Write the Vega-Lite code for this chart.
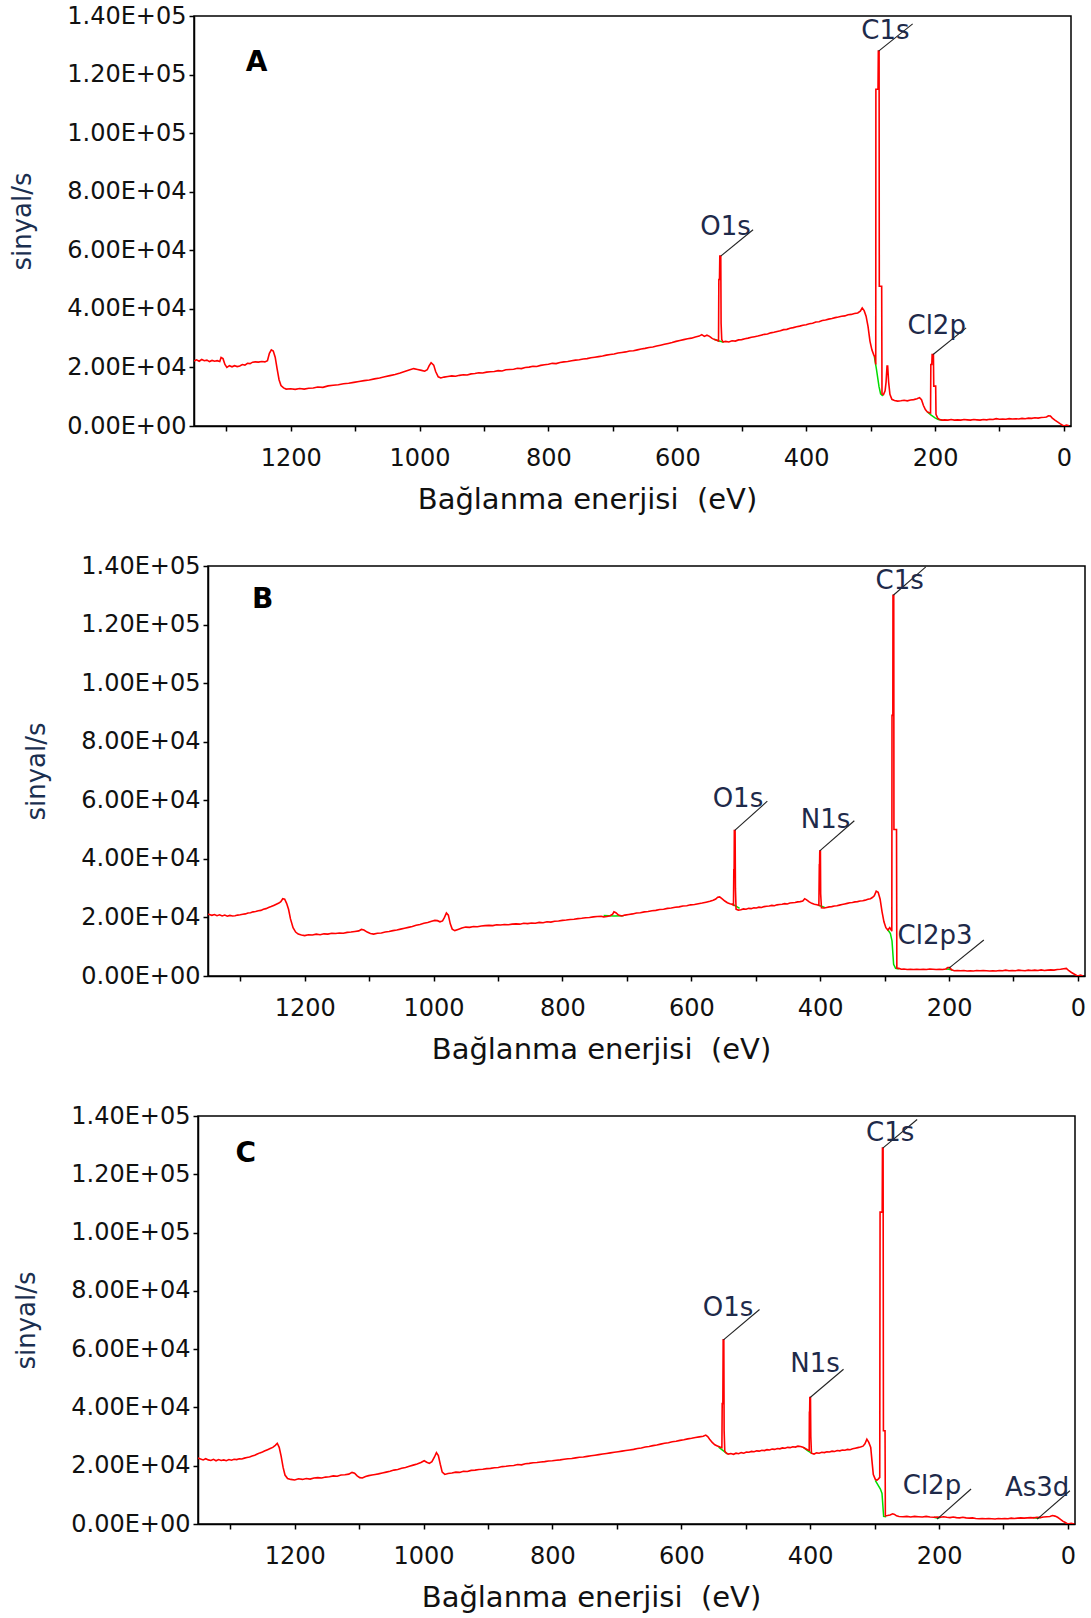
{
"$schema": "https://vega.github.io/schema/vega-lite/v6.json",
"padding": {"left": 5, "top": 3, "right": 5, "bottom": 2},
"background": "white",
"config": {
 "view": {"stroke": "#000000", "strokeWidth": 1.5},
 "axis": {"grid": false, "domainColor": "#000000", "domainWidth": 1.5, "tickColor": "#000000", "tickWidth": 1.5, "tickSize": 5,
   "labelFont": "DejaVu Sans", "labelFontSize": 24, "labelColor": "#111111",
   "titleFont": "DejaVu Sans", "titleFontSize": 29, "titleFontWeight": "normal", "titleColor": "#111111"},
 "axisY": {"titleFontSize": 26, "titleColor": "#1a2f50"}
},
"datasets": {
 "specA": [
{"e":1350,"v":22200},{"e":1346,"v":22600},{"e":1342,"v":22100},{"e":1338,"v":22700},{"e":1334,"v":22300},{"e":1330,"v":22500},{"e":1326,"v":22000},{"e":1322,"v":22400},{"e":1318,"v":22100},{"e":1314,"v":22300},{"e":1310,"v":22000},{"e":1308,"v":23400},{"e":1305,"v":23000},{"e":1302,"v":21000},{"e":1299,"v":20000},{"e":1295,"v":20600},{"e":1291,"v":20200},{"e":1287,"v":20600},{"e":1283,"v":20300},{"e":1279,"v":20500},{"e":1275,"v":21000},{"e":1271,"v":20800},{"e":1267,"v":21400},{"e":1263,"v":21300},{"e":1259,"v":21800},{"e":1255,"v":21900},{"e":1250,"v":21800},{"e":1245,"v":22000},{"e":1240,"v":21900},{"e":1236,"v":22300},{"e":1233,"v":24800},{"e":1230,"v":26000},{"e":1227,"v":25600},{"e":1224,"v":23500},{"e":1221,"v":19500},{"e":1218,"v":15800},{"e":1215,"v":13800},{"e":1211,"v":13000},{"e":1207,"v":12600},{"e":1200,"v":12700},{"e":1193,"v":12500},{"e":1186,"v":12800},{"e":1179,"v":12600},{"e":1172,"v":12900},{"e":1165,"v":13000},{"e":1158,"v":13300},{"e":1150,"v":13200},{"e":1142,"v":13700},{"e":1134,"v":13900},{"e":1126,"v":14100},{"e":1118,"v":14400},{"e":1110,"v":14600},{"e":1102,"v":14900},{"e":1094,"v":15200},{"e":1086,"v":15500},{"e":1078,"v":15700},{"e":1070,"v":16100},{"e":1062,"v":16400},{"e":1054,"v":16800},{"e":1046,"v":17200},{"e":1038,"v":17600},{"e":1030,"v":18100},{"e":1022,"v":18700},{"e":1015,"v":19200},{"e":1009,"v":19600},{"e":1003,"v":19300},{"e":997,"v":19000},{"e":992,"v":18700},{"e":988,"v":19200},{"e":985,"v":20600},{"e":982,"v":21600},{"e":978,"v":20800},{"e":975,"v":18600},{"e":971,"v":16800},{"e":967,"v":16400},{"e":962,"v":16700},{"e":956,"v":16900},{"e":950,"v":17100},{"e":944,"v":17000},{"e":938,"v":17300},{"e":932,"v":17500},{"e":926,"v":17400},{"e":920,"v":17800},{"e":914,"v":17900},{"e":908,"v":18200},{"e":902,"v":18100},{"e":896,"v":18400},{"e":890,"v":18500},{"e":884,"v":18600},{"e":878,"v":18900},{"e":872,"v":18800},{"e":866,"v":19200},{"e":860,"v":19300},{"e":854,"v":19400},{"e":848,"v":19700},{"e":842,"v":19600},{"e":836,"v":20000},{"e":830,"v":20100},{"e":824,"v":20400},{"e":818,"v":20300},{"e":812,"v":20700},{"e":806,"v":20900},{"e":800,"v":21100},{"e":794,"v":21400},{"e":788,"v":21300},{"e":782,"v":21700},{"e":776,"v":21900},{"e":770,"v":22000},{"e":764,"v":22300},{"e":758,"v":22500},{"e":752,"v":22600},{"e":746,"v":22900},{"e":740,"v":23000},{"e":734,"v":23300},{"e":728,"v":23500},{"e":722,"v":23700},{"e":716,"v":23900},{"e":710,"v":24200},{"e":704,"v":24400},{"e":698,"v":24600},{"e":692,"v":24900},{"e":686,"v":25100},{"e":680,"v":25300},{"e":674,"v":25600},{"e":668,"v":25700},{"e":662,"v":26000},{"e":656,"v":26300},{"e":650,"v":26500},{"e":644,"v":26800},{"e":638,"v":27000},{"e":632,"v":27300},{"e":626,"v":27600},{"e":620,"v":27900},{"e":614,"v":28200},{"e":608,"v":28500},{"e":602,"v":28900},{"e":596,"v":29200},{"e":590,"v":29500},{"e":584,"v":29800},{"e":578,"v":30000},{"e":572,"v":30400},{"e":566,"v":30700},{"e":562,"v":31200},{"e":558,"v":30600},{"e":554,"v":31000},{"e":550,"v":30600},{"e":546,"v":29900},{"e":542,"v":29500},{"e":538,"v":29200},{"e":536,"v":29000},{"e":535.5,"v":50000},{"e":534.5,"v":50000},{"e":534,"v":58000},{"e":532.5,"v":58000},{"e":532,"v":35000},{"e":531,"v":29500},{"e":529,"v":28700},{"e":525,"v":28900},{"e":520,"v":28700},{"e":515,"v":29100},{"e":510,"v":29000},{"e":505,"v":29400},{"e":500,"v":29500},{"e":495,"v":29800},{"e":490,"v":30000},{"e":485,"v":30300},{"e":480,"v":30500},{"e":475,"v":30700},{"e":470,"v":31000},{"e":465,"v":31300},{"e":460,"v":31400},{"e":455,"v":31800},{"e":450,"v":32000},{"e":445,"v":32300},{"e":440,"v":32500},{"e":435,"v":32900},{"e":430,"v":33000},{"e":425,"v":33400},{"e":420,"v":33600},{"e":415,"v":33900},{"e":410,"v":34100},{"e":405,"v":34400},{"e":400,"v":34600},{"e":395,"v":34900},{"e":390,"v":35100},{"e":385,"v":35500},{"e":380,"v":35600},{"e":375,"v":36000},{"e":370,"v":36200},{"e":365,"v":36500},{"e":360,"v":36700},{"e":355,"v":37000},{"e":350,"v":37200},{"e":345,"v":37500},{"e":340,"v":37600},{"e":335,"v":38000},{"e":330,"v":38100},{"e":325,"v":38400},{"e":320,"v":38600},{"e":316,"v":39200},{"e":313,"v":40300},{"e":310,"v":39400},{"e":307,"v":37500},{"e":304,"v":34000},{"e":301,"v":29000},{"e":298,"v":26000},{"e":295,"v":24200},{"e":293,"v":23500},{"e":292,"v":21000},{"e":291.8,"v":115000},{"e":288.5,"v":115000},{"e":288,"v":128000},{"e":286.8,"v":128000},{"e":286.5,"v":47700},{"e":282.8,"v":47700},{"e":282.3,"v":11000},{"e":280,"v":10700},{"e":277.5,"v":12000},{"e":276,"v":15000},{"e":274.5,"v":20500},{"e":273.5,"v":20500},{"e":272,"v":15000},{"e":270,"v":10800},{"e":267,"v":9100},{"e":263,"v":8700},{"e":258,"v":8500},{"e":253,"v":8600},{"e":248,"v":8800},{"e":243,"v":8600},{"e":238,"v":8900},{"e":233,"v":9000},{"e":228,"v":9300},{"e":224,"v":9700},{"e":221,"v":9000},{"e":218,"v":7000},{"e":215,"v":5600},{"e":212,"v":4800},{"e":209,"v":4500},{"e":207,"v":4400},{"e":206.5,"v":21000},{"e":205,"v":21000},{"e":204.5,"v":24400},{"e":202.5,"v":24400},{"e":202,"v":13600},{"e":199,"v":13600},{"e":198.5,"v":4000},{"e":196,"v":2700},{"e":193,"v":2200},{"e":189,"v":2000},{"e":185,"v":2100},{"e":180,"v":2000},{"e":175,"v":2200},{"e":170,"v":2000},{"e":165,"v":2100},{"e":160,"v":2000},{"e":155,"v":2200},{"e":150,"v":2100},{"e":145,"v":2000},{"e":140,"v":2200},{"e":135,"v":2100},{"e":130,"v":2000},{"e":125,"v":2200},{"e":120,"v":2100},{"e":115,"v":2300},{"e":110,"v":2200},{"e":105,"v":2500},{"e":100,"v":2300},{"e":95,"v":2400},{"e":90,"v":2300},{"e":85,"v":2500},{"e":80,"v":2400},{"e":75,"v":2500},{"e":70,"v":2400},{"e":65,"v":2600},{"e":60,"v":2500},{"e":55,"v":2700},{"e":50,"v":2600},{"e":45,"v":2800},{"e":40,"v":2700},{"e":35,"v":2900},{"e":30,"v":3000},{"e":27,"v":3100},{"e":24,"v":3500},{"e":21,"v":3400},{"e":18,"v":2700},{"e":14,"v":2000},{"e":10,"v":1400},{"e":6,"v":800},{"e":3,"v":400},{"e":0,"v":0},{"e":-4,"v":300},{"e":-8,"v":100}
 ],
 "bgA": [
{"s":1,"e":543,"v":29600},{"s":1,"e":536,"v":29100},{"s":1,"e":528,"v":28600},
{"s":2,"e":294.3,"v":23900},{"s":2,"e":291,"v":19500},{"s":2,"e":287,"v":13500},{"s":2,"e":284.5,"v":11000},{"s":2,"e":281,"v":10300},
{"s":3,"e":212,"v":4800},{"s":3,"e":206,"v":3700},{"s":3,"e":200,"v":2800},{"s":3,"e":195,"v":2200},{"s":3,"e":188,"v":2000}
 ],
 "annA": [
{"lab":"C1s","tx":277,"ty":134800,"x1":287.6,"y1":128000,"x2":234.7,"y2":137300},
{"lab":"O1s","tx":525,"ty":68000,"x1":532.6,"y1":58000,"x2":482.4,"y2":67000},
{"lab":"Cl2p","tx":197.4,"ty":34300,"x1":203,"y1":24400,"x2":151.7,"y2":33500}
 ],
 "specB": [
{"e":1352,"v":21200},{"e":1348,"v":21000},{"e":1344,"v":20700},{"e":1340,"v":21000},{"e":1336,"v":20600},{"e":1332,"v":20900},{"e":1328,"v":20500},{"e":1324,"v":20800},{"e":1320,"v":20400},{"e":1316,"v":20700},{"e":1312,"v":20500},{"e":1308,"v":20600},{"e":1304,"v":20800},{"e":1300,"v":20900},{"e":1296,"v":21100},{"e":1292,"v":21200},{"e":1288,"v":21500},{"e":1284,"v":21600},{"e":1280,"v":21900},{"e":1276,"v":22000},{"e":1272,"v":22300},{"e":1268,"v":22400},{"e":1264,"v":22800},{"e":1260,"v":23000},{"e":1256,"v":23400},{"e":1252,"v":23700},{"e":1248,"v":24100},{"e":1244,"v":24500},{"e":1240,"v":24900},{"e":1237,"v":25400},{"e":1234,"v":26400},{"e":1231,"v":26200},{"e":1228,"v":24800},{"e":1225,"v":22800},{"e":1222,"v":19500},{"e":1218,"v":16500},{"e":1214,"v":15000},{"e":1210,"v":14300},{"e":1205,"v":14000},{"e":1200,"v":13800},{"e":1194,"v":14100},{"e":1188,"v":14000},{"e":1182,"v":14300},{"e":1176,"v":14100},{"e":1170,"v":14400},{"e":1164,"v":14300},{"e":1158,"v":14600},{"e":1152,"v":14500},{"e":1146,"v":14700},{"e":1140,"v":14600},{"e":1134,"v":14900},{"e":1128,"v":15000},{"e":1122,"v":15200},{"e":1116,"v":15400},{"e":1112,"v":15900},{"e":1108,"v":15700},{"e":1103,"v":15000},{"e":1098,"v":14500},{"e":1093,"v":14300},{"e":1087,"v":14600},{"e":1081,"v":14700},{"e":1075,"v":15000},{"e":1069,"v":15200},{"e":1063,"v":15500},{"e":1057,"v":15700},{"e":1051,"v":16000},{"e":1045,"v":16300},{"e":1039,"v":16600},{"e":1033,"v":16900},{"e":1027,"v":17300},{"e":1021,"v":17600},{"e":1015,"v":18000},{"e":1009,"v":18300},{"e":1003,"v":18700},{"e":998,"v":19000},{"e":994,"v":18900},{"e":990,"v":18500},{"e":986,"v":18800},{"e":983,"v":20000},{"e":980,"v":21500},{"e":977,"v":20800},{"e":974,"v":17800},{"e":971,"v":16000},{"e":967,"v":15500},{"e":962,"v":15900},{"e":956,"v":16400},{"e":950,"v":16700},{"e":944,"v":16600},{"e":938,"v":16900},{"e":932,"v":16800},{"e":926,"v":17100},{"e":920,"v":17200},{"e":914,"v":17300},{"e":908,"v":17200},{"e":902,"v":17500},{"e":896,"v":17400},{"e":890,"v":17600},{"e":884,"v":17500},{"e":878,"v":17700},{"e":872,"v":17800},{"e":866,"v":17700},{"e":860,"v":18000},{"e":854,"v":17900},{"e":848,"v":18100},{"e":842,"v":18000},{"e":836,"v":18300},{"e":830,"v":18200},{"e":824,"v":18500},{"e":818,"v":18400},{"e":812,"v":18700},{"e":806,"v":18800},{"e":800,"v":19000},{"e":794,"v":19100},{"e":788,"v":19300},{"e":782,"v":19400},{"e":776,"v":19600},{"e":770,"v":19700},{"e":764,"v":19900},{"e":758,"v":20000},{"e":752,"v":20200},{"e":746,"v":20300},{"e":740,"v":20400},{"e":736,"v":20200},{"e":731,"v":20300},{"e":726,"v":20600},{"e":722,"v":21100},{"e":720,"v":21900},{"e":717,"v":21600},{"e":713,"v":20800},{"e":708,"v":20500},{"e":703,"v":20800},{"e":697,"v":21000},{"e":691,"v":21200},{"e":685,"v":21500},{"e":679,"v":21600},{"e":673,"v":21900},{"e":667,"v":22000},{"e":661,"v":22300},{"e":655,"v":22400},{"e":649,"v":22700},{"e":643,"v":22800},{"e":637,"v":23100},{"e":631,"v":23200},{"e":625,"v":23500},{"e":619,"v":23600},{"e":613,"v":23900},{"e":607,"v":24000},{"e":601,"v":24300},{"e":595,"v":24400},{"e":589,"v":24700},{"e":583,"v":24900},{"e":577,"v":25200},{"e":571,"v":25500},{"e":566,"v":25900},{"e":562,"v":26300},{"e":559,"v":26900},{"e":556,"v":27000},{"e":552,"v":26300},{"e":548,"v":25600},{"e":544,"v":25000},{"e":540,"v":24700},{"e":537,"v":24500},{"e":534.5,"v":24200},{"e":534,"v":36300},{"e":533.5,"v":36300},{"e":533.2,"v":49700},{"e":532,"v":49700},{"e":531.5,"v":30000},{"e":530.5,"v":22800},{"e":527,"v":22500},{"e":523,"v":22600},{"e":519,"v":22900},{"e":515,"v":22800},{"e":511,"v":23100},{"e":507,"v":23000},{"e":503,"v":23300},{"e":499,"v":23200},{"e":495,"v":23500},{"e":491,"v":23400},{"e":487,"v":23700},{"e":483,"v":23800},{"e":479,"v":23900},{"e":475,"v":24100},{"e":471,"v":24000},{"e":467,"v":24300},{"e":463,"v":24400},{"e":459,"v":24500},{"e":455,"v":24700},{"e":451,"v":24600},{"e":447,"v":24900},{"e":443,"v":25000},{"e":439,"v":25100},{"e":435,"v":25300},{"e":431,"v":25400},{"e":427,"v":25600},{"e":424,"v":26400},{"e":421,"v":26000},{"e":417,"v":25300},{"e":413,"v":24800},{"e":409,"v":24500},{"e":405,"v":24300},{"e":402,"v":24100},{"e":401.3,"v":38000},{"e":400.9,"v":38000},{"e":400.6,"v":42700},{"e":399.6,"v":42700},{"e":399.2,"v":28000},{"e":398,"v":23300},{"e":394,"v":23200},{"e":390,"v":23400},{"e":386,"v":23600},{"e":382,"v":23700},{"e":378,"v":23900},{"e":374,"v":24000},{"e":370,"v":24200},{"e":366,"v":24400},{"e":362,"v":24600},{"e":358,"v":24800},{"e":354,"v":25000},{"e":350,"v":25100},{"e":346,"v":25300},{"e":342,"v":25400},{"e":338,"v":25600},{"e":334,"v":25700},{"e":330,"v":25900},{"e":326,"v":26200},{"e":322,"v":26400},{"e":319,"v":26800},{"e":316,"v":27400},{"e":313,"v":29000},{"e":310,"v":28600},{"e":307,"v":26300},{"e":304,"v":22000},{"e":301,"v":18500},{"e":298,"v":16500},{"e":295,"v":15700},{"e":292,"v":16500},{"e":290,"v":15800},{"e":288.8,"v":15300},{"e":288.5,"v":89000},{"e":287.2,"v":89000},{"e":287,"v":130000},{"e":285.8,"v":130000},{"e":285.5,"v":50000},{"e":281.5,"v":50000},{"e":281,"v":2700},{"e":278,"v":2600},{"e":274,"v":2300},{"e":270,"v":2400},{"e":265,"v":2200},{"e":260,"v":2300},{"e":255,"v":2200},{"e":250,"v":2300},{"e":245,"v":2200},{"e":240,"v":2300},{"e":235,"v":2200},{"e":230,"v":2400},{"e":225,"v":2300},{"e":220,"v":2200},{"e":215,"v":2300},{"e":210,"v":2200},{"e":205,"v":2400},{"e":202,"v":2900},{"e":199,"v":2900},{"e":196,"v":2100},{"e":192,"v":1800},{"e":187,"v":1900},{"e":182,"v":1800},{"e":177,"v":1900},{"e":172,"v":1700},{"e":167,"v":1800},{"e":162,"v":1700},{"e":157,"v":1900},{"e":152,"v":1800},{"e":147,"v":1900},{"e":142,"v":1800},{"e":137,"v":1700},{"e":132,"v":1800},{"e":127,"v":1700},{"e":122,"v":1900},{"e":117,"v":1800},{"e":112,"v":2000},{"e":107,"v":1800},{"e":102,"v":1900},{"e":97,"v":1800},{"e":92,"v":2000},{"e":87,"v":1900},{"e":82,"v":1800},{"e":77,"v":2000},{"e":72,"v":1900},{"e":67,"v":2000},{"e":62,"v":1900},{"e":57,"v":2100},{"e":52,"v":1900},{"e":47,"v":2000},{"e":42,"v":2100},{"e":37,"v":2000},{"e":32,"v":2200},{"e":27,"v":2300},{"e":22,"v":2500},{"e":18,"v":2600},{"e":14,"v":1800},{"e":10,"v":1200},{"e":6,"v":700},{"e":2,"v":200},{"e":0,"v":0},{"e":-4,"v":300},{"e":-8,"v":0}
 ],
 "bgB": [
{"s":1,"e":736,"v":20700},{"s":1,"e":720,"v":20500},{"s":1,"e":705,"v":20600},
{"s":2,"e":537,"v":24600},{"s":2,"e":530,"v":23800},{"s":2,"e":525,"v":23100},
{"s":3,"e":403,"v":24200},{"s":3,"e":398,"v":23800},{"s":3,"e":393,"v":23400},
{"s":4,"e":295,"v":15800},{"s":4,"e":291,"v":14500},{"s":4,"e":288.5,"v":12000},{"s":4,"e":286,"v":4000},{"s":4,"e":283,"v":2600},{"s":4,"e":278,"v":2400},
{"s":5,"e":205,"v":2400},{"s":5,"e":200,"v":2300},{"s":5,"e":195,"v":2000}
 ],
 "annB": [
{"lab":"C1s","tx":276.5,"ty":134800,"x1":286.5,"y1":130000,"x2":236,"y2":139700},
{"lab":"O1s","tx":527.6,"ty":60400,"x1":532.5,"y1":49700,"x2":482,"y2":59700},
{"lab":"N1s","tx":391.7,"ty":53400,"x1":400.6,"y1":42700,"x2":347,"y2":53000},
{"lab":"Cl2p3","tx":221.7,"ty":13600,"x1":200.5,"y1":2600,"x2":146,"y2":12300}
 ],
 "specC": [
{"e":1352,"v":22800},{"e":1346,"v":22300},{"e":1342,"v":22000},{"e":1338,"v":22400},{"e":1334,"v":22000},{"e":1330,"v":21800},{"e":1326,"v":22200},{"e":1322,"v":21700},{"e":1318,"v":22100},{"e":1314,"v":21800},{"e":1310,"v":22000},{"e":1306,"v":21700},{"e":1302,"v":22100},{"e":1298,"v":21900},{"e":1294,"v":22200},{"e":1290,"v":22100},{"e":1286,"v":22400},{"e":1282,"v":22300},{"e":1278,"v":22600},{"e":1274,"v":22800},{"e":1270,"v":23000},{"e":1266,"v":23300},{"e":1262,"v":23600},{"e":1258,"v":24000},{"e":1254,"v":24400},{"e":1250,"v":24700},{"e":1246,"v":25100},{"e":1242,"v":25500},{"e":1238,"v":25900},{"e":1234,"v":26300},{"e":1230,"v":27000},{"e":1227,"v":27700},{"e":1224,"v":26300},{"e":1221,"v":23300},{"e":1218,"v":19500},{"e":1215,"v":16800},{"e":1211,"v":15600},{"e":1206,"v":15300},{"e":1200,"v":15100},{"e":1194,"v":15500},{"e":1188,"v":15300},{"e":1182,"v":15600},{"e":1176,"v":15400},{"e":1170,"v":15800},{"e":1164,"v":15900},{"e":1158,"v":15800},{"e":1152,"v":16100},{"e":1146,"v":16200},{"e":1140,"v":16500},{"e":1134,"v":16400},{"e":1128,"v":16800},{"e":1122,"v":16900},{"e":1116,"v":17100},{"e":1111,"v":17700},{"e":1107,"v":17400},{"e":1103,"v":16500},{"e":1099,"v":15900},{"e":1095,"v":15800},{"e":1090,"v":16300},{"e":1085,"v":16600},{"e":1080,"v":16800},{"e":1075,"v":17000},{"e":1070,"v":17200},{"e":1064,"v":17500},{"e":1058,"v":17800},{"e":1052,"v":18100},{"e":1046,"v":18500},{"e":1040,"v":18700},{"e":1034,"v":19100},{"e":1028,"v":19400},{"e":1022,"v":19800},{"e":1016,"v":20200},{"e":1010,"v":20600},{"e":1004,"v":21100},{"e":999,"v":21700},{"e":995,"v":21200},{"e":991,"v":20800},{"e":987,"v":21400},{"e":983,"v":23000},{"e":980,"v":24500},{"e":977,"v":23500},{"e":974,"v":20500},{"e":971,"v":17800},{"e":967,"v":17000},{"e":962,"v":17300},{"e":956,"v":17500},{"e":950,"v":17800},{"e":944,"v":17700},{"e":938,"v":18100},{"e":932,"v":18000},{"e":926,"v":18400},{"e":920,"v":18500},{"e":914,"v":18700},{"e":908,"v":18800},{"e":902,"v":19000},{"e":896,"v":19100},{"e":890,"v":19300},{"e":884,"v":19400},{"e":878,"v":19700},{"e":872,"v":19800},{"e":866,"v":20000},{"e":860,"v":20100},{"e":854,"v":20400},{"e":848,"v":20300},{"e":842,"v":20700},{"e":836,"v":20800},{"e":830,"v":21000},{"e":824,"v":21100},{"e":818,"v":21300},{"e":812,"v":21400},{"e":806,"v":21600},{"e":800,"v":21700},{"e":794,"v":21900},{"e":788,"v":22000},{"e":782,"v":22200},{"e":776,"v":22400},{"e":770,"v":22500},{"e":764,"v":22700},{"e":758,"v":22900},{"e":752,"v":23000},{"e":746,"v":23200},{"e":740,"v":23400},{"e":734,"v":23600},{"e":728,"v":23800},{"e":722,"v":24000},{"e":716,"v":24200},{"e":710,"v":24400},{"e":704,"v":24600},{"e":698,"v":24800},{"e":692,"v":25000},{"e":686,"v":25200},{"e":680,"v":25400},{"e":674,"v":25600},{"e":668,"v":25900},{"e":662,"v":26100},{"e":656,"v":26400},{"e":650,"v":26600},{"e":644,"v":26900},{"e":638,"v":27100},{"e":632,"v":27400},{"e":626,"v":27700},{"e":620,"v":27900},{"e":614,"v":28200},{"e":608,"v":28400},{"e":602,"v":28700},{"e":596,"v":28900},{"e":590,"v":29200},{"e":584,"v":29400},{"e":578,"v":29700},{"e":572,"v":29900},{"e":566,"v":30100},{"e":562,"v":30500},{"e":559,"v":30000},{"e":556,"v":29100},{"e":552,"v":28000},{"e":548,"v":27200},{"e":544,"v":26800},{"e":540,"v":26400},{"e":537,"v":26200},{"e":536.5,"v":41300},{"e":535.5,"v":41300},{"e":535,"v":63200},{"e":534,"v":63200},{"e":533.5,"v":32000},{"e":532.5,"v":25000},{"e":530,"v":24300},{"e":527,"v":24000},{"e":523,"v":24200},{"e":519,"v":23900},{"e":515,"v":24300},{"e":511,"v":24100},{"e":507,"v":24500},{"e":503,"v":24300},{"e":499,"v":24700},{"e":495,"v":24600},{"e":491,"v":24900},{"e":487,"v":24800},{"e":483,"v":25100},{"e":479,"v":25000},{"e":475,"v":25300},{"e":471,"v":25200},{"e":467,"v":25500},{"e":463,"v":25400},{"e":459,"v":25700},{"e":455,"v":25600},{"e":451,"v":25900},{"e":447,"v":25800},{"e":443,"v":26100},{"e":439,"v":26000},{"e":435,"v":26300},{"e":431,"v":26200},{"e":427,"v":26500},{"e":423,"v":26400},{"e":419,"v":26700},{"e":415,"v":26600},{"e":411,"v":26300},{"e":407,"v":25800},{"e":404,"v":25500},{"e":401.5,"v":25300},{"e":401.2,"v":38300},{"e":400.8,"v":38300},{"e":400.5,"v":43400},{"e":399.5,"v":43400},{"e":399,"v":30000},{"e":398,"v":24300},{"e":394,"v":24000},{"e":390,"v":24400},{"e":386,"v":24300},{"e":382,"v":24600},{"e":378,"v":24500},{"e":374,"v":24800},{"e":370,"v":24700},{"e":366,"v":25000},{"e":362,"v":24900},{"e":358,"v":25200},{"e":354,"v":25100},{"e":350,"v":25400},{"e":346,"v":25300},{"e":342,"v":25600},{"e":338,"v":25500},{"e":334,"v":25800},{"e":330,"v":26000},{"e":326,"v":26200},{"e":322,"v":26400},{"e":318,"v":26700},{"e":315,"v":27500},{"e":312,"v":29100},{"e":309,"v":28000},{"e":306,"v":26300},{"e":304,"v":21500},{"e":302,"v":17000},{"e":299,"v":15400},{"e":296.5,"v":15000},{"e":294,"v":15500},{"e":292,"v":16000},{"e":291.5,"v":107000},{"e":288.2,"v":107000},{"e":287.8,"v":129000},{"e":286.8,"v":129000},{"e":286.3,"v":32000},{"e":283.8,"v":32000},{"e":283.3,"v":2800},{"e":280,"v":2900},{"e":276,"v":3100},{"e":272,"v":3500},{"e":269,"v":3300},{"e":266,"v":2800},{"e":262,"v":2600},{"e":256,"v":2500},{"e":250,"v":2600},{"e":244,"v":2400},{"e":238,"v":2600},{"e":232,"v":2500},{"e":226,"v":2400},{"e":220,"v":2600},{"e":214,"v":2400},{"e":208,"v":2300},{"e":203,"v":2400},{"e":198,"v":2300},{"e":193,"v":2500},{"e":188,"v":2300},{"e":183,"v":2200},{"e":178,"v":2400},{"e":173,"v":2200},{"e":168,"v":2100},{"e":163,"v":2300},{"e":158,"v":2100},{"e":153,"v":2000},{"e":148,"v":2100},{"e":143,"v":1900},{"e":138,"v":1800},{"e":133,"v":1900},{"e":128,"v":1800},{"e":123,"v":1900},{"e":118,"v":1800},{"e":113,"v":1700},{"e":108,"v":1900},{"e":103,"v":1800},{"e":98,"v":1900},{"e":93,"v":1800},{"e":88,"v":2000},{"e":83,"v":1900},{"e":78,"v":2000},{"e":73,"v":2100},{"e":68,"v":2000},{"e":63,"v":2100},{"e":58,"v":2200},{"e":53,"v":2100},{"e":48,"v":2300},{"e":43,"v":2200},{"e":38,"v":2400},{"e":33,"v":2500},{"e":28,"v":2600},{"e":24,"v":2900},{"e":20,"v":2700},{"e":16,"v":2300},{"e":12,"v":1700},{"e":8,"v":1000},{"e":4,"v":500},{"e":1,"v":100},{"e":0,"v":0},{"e":-5,"v":200},{"e":-10,"v":0}
 ],
 "bgC": [
{"s":1,"e":542,"v":26400},{"s":1,"e":535,"v":25200},{"s":1,"e":528,"v":24000},
{"s":2,"e":410,"v":26200},{"s":2,"e":404,"v":25200},{"s":2,"e":398,"v":24300},
{"s":3,"e":299,"v":15000},{"s":3,"e":291,"v":12000},{"s":3,"e":288.5,"v":10500},{"s":3,"e":286,"v":2600},{"s":3,"e":282,"v":2500},
{"s":4,"e":208,"v":2300},{"s":4,"e":203,"v":2100},{"s":4,"e":198,"v":2200},
{"s":5,"e":54,"v":2200},{"s":5,"e":48,"v":2000},{"s":5,"e":42,"v":2300}
 ],
 "annC": [
{"lab":"C1s","tx":275.8,"ty":134200,"x1":287.3,"y1":129000,"x2":234,"y2":138800},
{"lab":"O1s","tx":527.4,"ty":74100,"x1":534.5,"y1":63200,"x2":478.6,"y2":73600},
{"lab":"N1s","tx":392.3,"ty":54900,"x1":400,"y1":43400,"x2":348.2,"y2":53100},
{"lab":"Cl2p","tx":211,"ty":13100,"x1":203,"y1":1700,"x2":150.3,"y2":12000},
{"lab":"As3d","tx":47.7,"ty":12500,"x1":47.7,"y1":1700,"x2":-3.1,"y2":11400}
 ],
 "letters": [
{"p":"A","e":1253,"v":124000},{"p":"B","e":1265,"v":128400},{"p":"C","e":1276,"v":127000}
 ]
},
"spacing": 38,
"vconcat": [
 {"spacing": 0, "hconcat": [
  {"width": 2, "height": 2, "data": {"values": [{"t": ""}]}, "mark": {"type": "text"}, "encoding": {"text": {"field": "t"}}, "view": {"stroke": "transparent"}},
  {"width": 877, "height": 410, "layer": [
   {"data": {"name": "bgA"}, "mark": {"type": "line", "color": "#00dd00", "strokeWidth": 1.5, "clip": true},
    "encoding": {
     "x": {"field": "e", "type": "quantitative", "title": "Bağlanma enerjisi\u00a0\u00a0(eV)", "scale": {"domain": [1350, -11], "nice": false, "zero": false},
       "axis": {"values": [1300,1200,1100,1000,900,800,700,600,500,400,300,200,100,0], "format": "d", "labelExpr": "datum.value % 200 == 0 ? datum.label : ''", "labelPadding": 15, "titlePadding": 15, "titleX": 393, "labelFlush": false, "labelOverlap": false}},
     "y": {"field": "v", "type": "quantitative", "title": "sinyal/s", "scale": {"domain": [0, 140000], "nice": false, "zero": true},
       "axis": {"values": [0,10000,20000,30000,40000,50000,60000,70000,80000,90000,100000,110000,120000,130000,140000], "labelExpr": "datum.value % 20000 == 0 ? replace(format(datum.value, '.2e'), 'e+', 'E+0') : ''", "labelPadding": 3, "titlePadding": 31, "labelOverlap": false}},
     "detail": {"field": "s", "type": "nominal"}}},
   {"data": {"name": "specA"}, "mark": {"type": "line", "color": "#ff0000", "strokeWidth": 1.6, "clip": true},
    "encoding": {"x": {"field": "e", "type": "quantitative", "title": "Bağlanma enerjisi\u00a0\u00a0(eV)"}, "y": {"field": "v", "type": "quantitative", "title": "sinyal/s"}}},
   {"data": {"name": "annA"}, "mark": {"type": "rule", "color": "#222222", "strokeWidth": 1.1},
    "encoding": {"x": {"field": "x1", "type": "quantitative", "title": "Bağlanma enerjisi\u00a0\u00a0(eV)"}, "y": {"field": "y1", "type": "quantitative", "title": "sinyal/s"}, "x2": {"field": "x2"}, "y2": {"field": "y2"}}},
   {"data": {"name": "annA"}, "mark": {"type": "text", "font": "DejaVu Sans", "fontSize": 26, "color": "#1e2a4a"},
    "encoding": {"x": {"field": "tx", "type": "quantitative", "title": "Bağlanma enerjisi\u00a0\u00a0(eV)"}, "y": {"field": "ty", "type": "quantitative", "title": "sinyal/s"}, "text": {"field": "lab"}}},
   {"data": {"name": "letters"}, "transform": [{"filter": "datum.p == 'A'"}], "mark": {"type": "text", "font": "DejaVu Sans", "fontWeight": "bold", "fontSize": 28, "color": "#000000"},
    "encoding": {"x": {"field": "e", "type": "quantitative", "title": "Bağlanma enerjisi\u00a0\u00a0(eV)"}, "y": {"field": "v", "type": "quantitative", "title": "sinyal/s"}, "text": {"field": "p"}}}
  ]}
 ]},
 {"spacing": 0, "hconcat": [
  {"width": 16, "height": 2, "data": {"values": [{"t": ""}]}, "mark": {"type": "text"}, "encoding": {"text": {"field": "t"}}, "view": {"stroke": "transparent"}},
  {"width": 877, "height": 410, "layer": [
   {"data": {"name": "bgB"}, "mark": {"type": "line", "color": "#00dd00", "strokeWidth": 1.5, "clip": true},
    "encoding": {
     "x": {"field": "e", "type": "quantitative", "title": "Bağlanma enerjisi\u00a0\u00a0(eV)", "scale": {"domain": [1350, -11], "nice": false, "zero": false},
       "axis": {"values": [1300,1200,1100,1000,900,800,700,600,500,400,300,200,100,0], "format": "d", "labelExpr": "datum.value % 200 == 0 ? datum.label : ''", "labelPadding": 15, "titlePadding": 15, "titleX": 393, "labelFlush": false, "labelOverlap": false}},
     "y": {"field": "v", "type": "quantitative", "title": "sinyal/s", "scale": {"domain": [0, 140000], "nice": false, "zero": true},
       "axis": {"values": [0,10000,20000,30000,40000,50000,60000,70000,80000,90000,100000,110000,120000,130000,140000], "labelExpr": "datum.value % 20000 == 0 ? replace(format(datum.value, '.2e'), 'e+', 'E+0') : ''", "labelPadding": 3, "titlePadding": 31, "labelOverlap": false}},
     "detail": {"field": "s", "type": "nominal"}}},
   {"data": {"name": "specB"}, "mark": {"type": "line", "color": "#ff0000", "strokeWidth": 1.6, "clip": true},
    "encoding": {"x": {"field": "e", "type": "quantitative", "title": "Bağlanma enerjisi\u00a0\u00a0(eV)"}, "y": {"field": "v", "type": "quantitative", "title": "sinyal/s"}}},
   {"data": {"name": "annB"}, "mark": {"type": "rule", "color": "#222222", "strokeWidth": 1.1},
    "encoding": {"x": {"field": "x1", "type": "quantitative", "title": "Bağlanma enerjisi\u00a0\u00a0(eV)"}, "y": {"field": "y1", "type": "quantitative", "title": "sinyal/s"}, "x2": {"field": "x2"}, "y2": {"field": "y2"}}},
   {"data": {"name": "annB"}, "mark": {"type": "text", "font": "DejaVu Sans", "fontSize": 26, "color": "#1e2a4a"},
    "encoding": {"x": {"field": "tx", "type": "quantitative", "title": "Bağlanma enerjisi\u00a0\u00a0(eV)"}, "y": {"field": "ty", "type": "quantitative", "title": "sinyal/s"}, "text": {"field": "lab"}}},
   {"data": {"name": "letters"}, "transform": [{"filter": "datum.p == 'B'"}], "mark": {"type": "text", "font": "DejaVu Sans", "fontWeight": "bold", "fontSize": 28, "color": "#000000"},
    "encoding": {"x": {"field": "e", "type": "quantitative", "title": "Bağlanma enerjisi\u00a0\u00a0(eV)"}, "y": {"field": "v", "type": "quantitative", "title": "sinyal/s"}, "text": {"field": "p"}}}
  ]}
 ]},
 {"spacing": 0, "hconcat": [
  {"width": 6, "height": 2, "data": {"values": [{"t": ""}]}, "mark": {"type": "text"}, "encoding": {"text": {"field": "t"}}, "view": {"stroke": "transparent"}},
  {"width": 877, "height": 408, "layer": [
   {"data": {"name": "bgC"}, "mark": {"type": "line", "color": "#00dd00", "strokeWidth": 1.5, "clip": true},
    "encoding": {
     "x": {"field": "e", "type": "quantitative", "title": "Bağlanma enerjisi\u00a0\u00a0(eV)", "scale": {"domain": [1350, -11], "nice": false, "zero": false},
       "axis": {"values": [1300,1200,1100,1000,900,800,700,600,500,400,300,200,100,0], "format": "d", "labelExpr": "datum.value % 200 == 0 ? datum.label : ''", "labelPadding": 15, "titlePadding": 15, "titleX": 393, "labelFlush": false, "labelOverlap": false}},
     "y": {"field": "v", "type": "quantitative", "title": "sinyal/s", "scale": {"domain": [0, 140000], "nice": false, "zero": true},
       "axis": {"values": [0,10000,20000,30000,40000,50000,60000,70000,80000,90000,100000,110000,120000,130000,140000], "labelExpr": "datum.value % 20000 == 0 ? replace(format(datum.value, '.2e'), 'e+', 'E+0') : ''", "labelPadding": 3, "titlePadding": 31, "labelOverlap": false}},
     "detail": {"field": "s", "type": "nominal"}}},
   {"data": {"name": "specC"}, "mark": {"type": "line", "color": "#ff0000", "strokeWidth": 1.6, "clip": true},
    "encoding": {"x": {"field": "e", "type": "quantitative", "title": "Bağlanma enerjisi\u00a0\u00a0(eV)"}, "y": {"field": "v", "type": "quantitative", "title": "sinyal/s"}}},
   {"data": {"name": "annC"}, "mark": {"type": "rule", "color": "#222222", "strokeWidth": 1.1},
    "encoding": {"x": {"field": "x1", "type": "quantitative", "title": "Bağlanma enerjisi\u00a0\u00a0(eV)"}, "y": {"field": "y1", "type": "quantitative", "title": "sinyal/s"}, "x2": {"field": "x2"}, "y2": {"field": "y2"}}},
   {"data": {"name": "annC"}, "mark": {"type": "text", "font": "DejaVu Sans", "fontSize": 26, "color": "#1e2a4a"},
    "encoding": {"x": {"field": "tx", "type": "quantitative", "title": "Bağlanma enerjisi\u00a0\u00a0(eV)"}, "y": {"field": "ty", "type": "quantitative", "title": "sinyal/s"}, "text": {"field": "lab"}}},
   {"data": {"name": "letters"}, "transform": [{"filter": "datum.p == 'C'"}], "mark": {"type": "text", "font": "DejaVu Sans", "fontWeight": "bold", "fontSize": 28, "color": "#000000"},
    "encoding": {"x": {"field": "e", "type": "quantitative", "title": "Bağlanma enerjisi\u00a0\u00a0(eV)"}, "y": {"field": "v", "type": "quantitative", "title": "sinyal/s"}, "text": {"field": "p"}}}
  ]}
 ]}
]
}
